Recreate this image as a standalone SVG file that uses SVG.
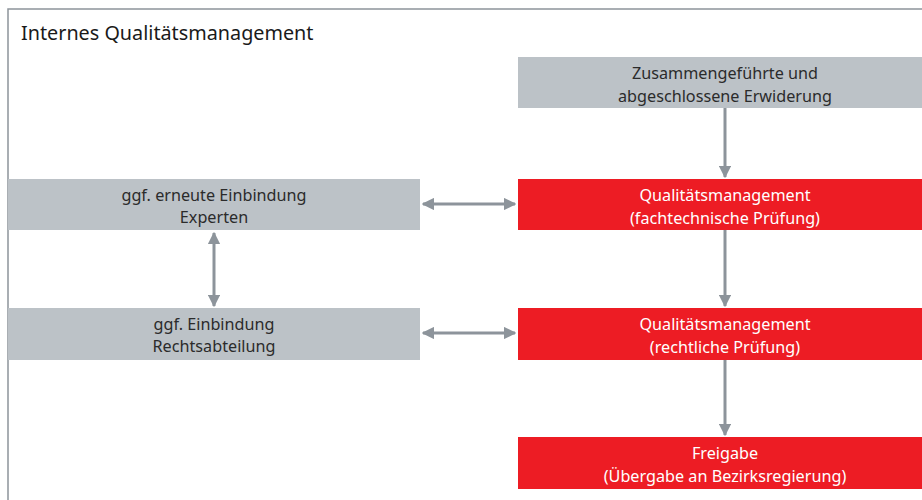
<svg xmlns="http://www.w3.org/2000/svg" width="922" height="500" viewBox="0 0 922 500">
<defs>
<marker id="ah" viewBox="0 0 10 10" refX="9" refY="5" markerWidth="4.2" markerHeight="4.2" orient="auto-start-reverse" markerUnits="strokeWidth">
<path d="M0,0 L10,5 L0,10 Z" fill="#8d949b"/>
</marker>
<style>
.frame{fill:#fff;stroke:#8d949b;stroke-width:1.5}
.g{fill:#bcc2c7}
.r{fill:#ed1c24}
text{font-family:"Noto Sans","Open Sans",sans-serif;font-size:16.2px;text-anchor:middle}
.gt{fill:#2b2b2b}
.rt{fill:#fff}
.title{font-size:19.8px;text-anchor:start;fill:#1a1a1a}
.c{stroke:#8d949b;stroke-width:3;fill:none}
</style>
</defs>
<rect width="922" height="500" fill="#fff"/>
<rect class="frame" x="8" y="9" width="930" height="510"/>
<text class="title" x="21" y="40">Internes Qualitätsmanagement</text>
<g id="connectors">
<line class="c" x1="725" y1="108" x2="725" y2="177" marker-end="url(#ah)"/>
<line class="c" x1="725" y1="230" x2="725" y2="306" marker-end="url(#ah)"/>
<line class="c" x1="725" y1="360" x2="725" y2="435" marker-end="url(#ah)"/>
<line class="c" x1="423" y1="204" x2="515" y2="204" marker-start="url(#ah)" marker-end="url(#ah)"/>
<line class="c" x1="423" y1="333" x2="515" y2="333" marker-start="url(#ah)" marker-end="url(#ah)"/>
<line class="c" x1="214" y1="233" x2="214" y2="306" marker-start="url(#ah)" marker-end="url(#ah)"/>
</g>
<g id="n-erwiderung">
<rect class="g" x="518" y="57" width="404" height="51"/>
<text class="gt" x="725" y="79">Zusammengeführte und</text>
<text class="gt" x="725" y="102">abgeschlossene Erwiderung</text>
</g>
<g id="n-fach">
<rect class="r" x="518" y="179" width="404" height="51"/>
<text class="rt" x="725" y="201">Qualitätsmanagement</text>
<text class="rt" x="725" y="224">(fachtechnische Prüfung)</text>
</g>
<g id="n-recht">
<rect class="r" x="518" y="308" width="404" height="52"/>
<text class="rt" x="725" y="330">Qualitätsmanagement</text>
<text class="rt" x="725" y="353">(rechtliche Prüfung)</text>
</g>
<g id="n-freigabe">
<rect class="r" x="518" y="437" width="404" height="52"/>
<text class="rt" x="725" y="459">Freigabe</text>
<text class="rt" x="725" y="482">(Übergabe an Bezirksregierung)</text>
</g>
<g id="n-experten">
<rect class="g" x="8" y="179" width="412" height="51"/>
<text class="gt" x="214" y="201">ggf. erneute Einbindung</text>
<text class="gt" x="214" y="223">Experten</text>
</g>
<g id="n-rechtsabteilung">
<rect class="g" x="8" y="308" width="412" height="52"/>
<text class="gt" x="214" y="330">ggf. Einbindung</text>
<text class="gt" x="214" y="352">Rechtsabteilung</text>
</g>
</svg>
